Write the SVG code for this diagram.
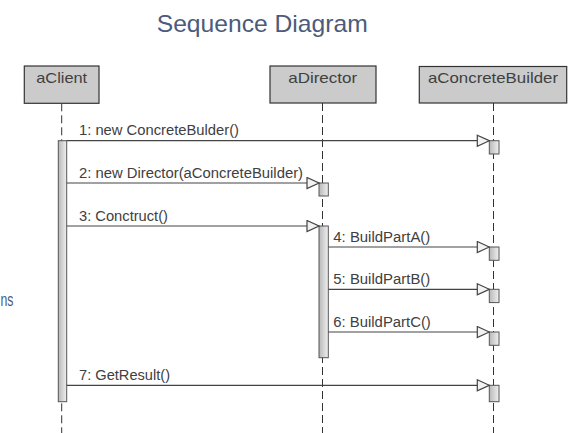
<svg xmlns="http://www.w3.org/2000/svg" width="573" height="433" viewBox="0 0 573 433">
<style>
.title{font-family:"Liberation Sans",Arial,sans-serif;font-size:24px;fill:#4c5a7c}
.obj{fill:#cbcbcb;stroke:#333;stroke-width:1.2}
.olbl{font-family:"Liberation Sans",Arial,sans-serif;font-size:15px;fill:#404040;text-anchor:middle}
.msg{font-family:"Liberation Sans",Arial,sans-serif;font-size:14px;fill:#404040}
.life{stroke:#333;stroke-width:1;stroke-dasharray:8 4;fill:none}
.act{fill:url(#g);stroke:#555;stroke-width:1}
.line{stroke:#444;stroke-width:1.2;fill:none}
.head{fill:#f2f2f2;stroke:#444;stroke-width:1.2}
</style>
<defs>
<linearGradient id="g" x1="0" y1="0" x2="1" y2="0">
<stop offset="0" stop-color="#b8b8b8"/>
<stop offset="1" stop-color="#f0f0f0"/>
</linearGradient>
<marker id="arr" viewBox="0 0 14 14" refX="13" refY="6.5" markerWidth="14" markerHeight="14" markerUnits="userSpaceOnUse" orient="auto">
<path class="head" d="M1,1 L13,6.5 L1,12 Z"/>
</marker>
</defs>
<rect width="573" height="433" fill="#fff"/>
<text class="title" x="156.7" y="31.7" textLength="211" lengthAdjust="spacingAndGlyphs">Sequence Diagram</text>
<text class="title" x="0.5" y="306" style="font-size:19px" textLength="13" lengthAdjust="spacingAndGlyphs">ns</text>

<g id="lifelines">
<line class="life" x1="61.7" y1="103.3" x2="61.7" y2="433"/>
<line class="life" x1="322.5" y1="103" x2="322.5" y2="433"/>
<line class="life" x1="493.5" y1="103" x2="493.5" y2="433"/>
</g>

<g id="aClient">
<rect class="obj" x="24.3" y="66" width="74.7" height="37.3"/>
<text class="olbl" x="61.7" y="83.3" textLength="51" lengthAdjust="spacingAndGlyphs">aClient</text>
<rect class="act" x="58.3" y="140.7" width="8.4" height="261"/>
</g>
<g id="aDirector">
<rect class="obj" x="270" y="66" width="106" height="37"/>
<text class="olbl" x="322.7" y="83.3" textLength="69" lengthAdjust="spacingAndGlyphs">aDirector</text>
<rect class="act" x="319" y="183" width="9.3" height="13"/>
<rect class="act" x="319" y="226" width="9.3" height="131.7"/>
</g>
<g id="aConcreteBuilder">
<rect class="obj" x="419.3" y="66.5" width="147.4" height="36.5"/>
<text class="olbl" x="493" y="83.3" textLength="130" lengthAdjust="spacingAndGlyphs">aConcreteBuilder</text>
<rect class="act" x="489.3" y="140.7" width="9.7" height="13.3"/>
<rect class="act" x="489.3" y="247" width="9.7" height="13.3"/>
<rect class="act" x="489.3" y="289.3" width="9.7" height="13.3"/>
<rect class="act" x="489.3" y="332" width="9.7" height="13.3"/>
<rect class="act" x="489.3" y="385.3" width="9.7" height="16.4"/>
</g>

<g id="connectors">
<line class="line" x1="66.7" y1="140.7" x2="489.3" y2="140.7" marker-end="url(#arr)"/>
<text class="msg" x="79" y="135" textLength="160" lengthAdjust="spacingAndGlyphs">1: new ConcreteBulder()</text>
<line class="line" x1="66.7" y1="183" x2="319" y2="183" marker-end="url(#arr)"/>
<text class="msg" x="79" y="177.5" textLength="224" lengthAdjust="spacingAndGlyphs">2: new Director(aConcreteBuilder)</text>
<line class="line" x1="66.7" y1="226" x2="319" y2="226" marker-end="url(#arr)"/>
<text class="msg" x="79" y="220.5" textLength="89" lengthAdjust="spacingAndGlyphs">3: Conctruct()</text>
<line class="line" x1="328.3" y1="247" x2="489.3" y2="247" marker-end="url(#arr)"/>
<text class="msg" x="333.3" y="241.7" textLength="97" lengthAdjust="spacingAndGlyphs">4: BuildPartA()</text>
<line class="line" x1="328.3" y1="289.3" x2="489.3" y2="289.3" marker-end="url(#arr)"/>
<text class="msg" x="333.3" y="284" textLength="97" lengthAdjust="spacingAndGlyphs">5: BuildPartB()</text>
<line class="line" x1="328.3" y1="332" x2="489.3" y2="332" marker-end="url(#arr)"/>
<text class="msg" x="333.3" y="326.7" textLength="97.5" lengthAdjust="spacingAndGlyphs">6: BuildPartC()</text>
<line class="line" x1="66.7" y1="385.3" x2="489.3" y2="385.3" marker-end="url(#arr)"/>
<text class="msg" x="79" y="380" textLength="91" lengthAdjust="spacingAndGlyphs">7: GetResult()</text>
</g>
</svg>
